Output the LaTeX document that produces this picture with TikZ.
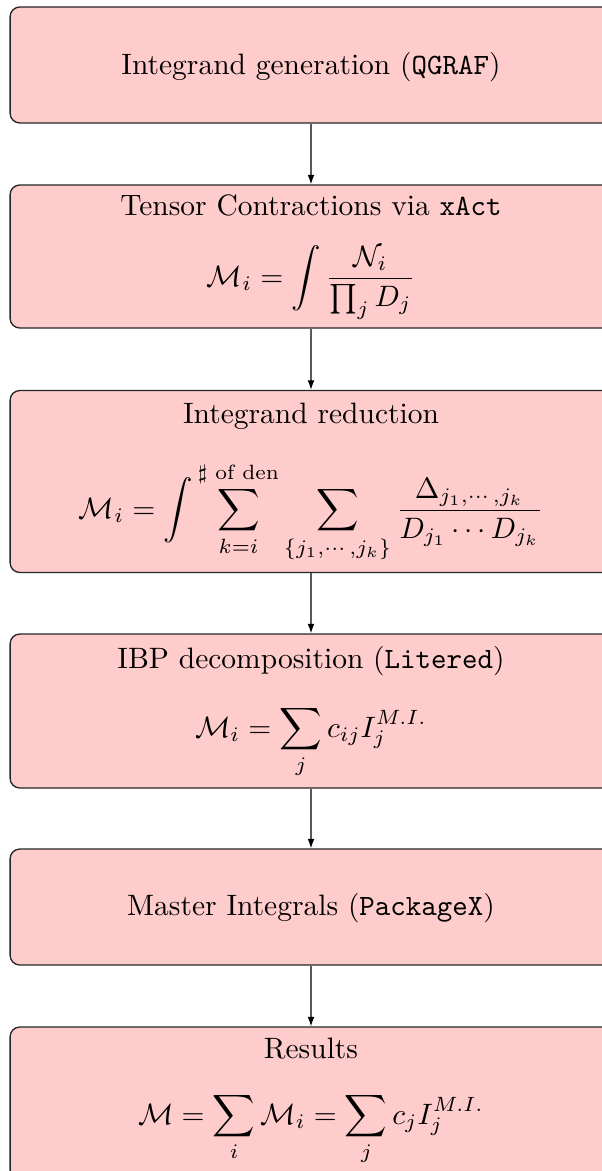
\documentclass[tikz,border=0pt]{standalone}
\usepackage{amsmath,amssymb}
\usetikzlibrary{arrows.meta}
\begin{document}
\begin{tikzpicture}[x=0.339pt,y=-0.339pt,
  box/.style={draw=black!85, fill=red!20, rounded corners=3.3pt, line width=0.45pt,
              minimum width=204pt, inner sep=0pt},
  lbl/.style={inner sep=0pt, anchor=base},
  conn/.style={draw=black!65, line width=0.4pt, -{Latex[length=3.2pt,width=2.3pt,black]}}]
\useasboundingbox (0,0) rectangle (601,1171);
\node[box, minimum height={116*0.339pt}] (b1) at (311,65) {};
\node[box, minimum height={143*0.339pt}] (b2) at (311,256.5) {};
\node[box, minimum height={182*0.339pt}] (b3) at (311,481.5) {};
\node[box, minimum height={154*0.339pt}] (b4) at (311,711) {};
\node[box, minimum height={116*0.339pt}] (b5) at (311,907) {};
\node[box, minimum height={153*0.339pt}] (b6) at (311,1103.5) {};

\node[lbl] (t1) at (311,75) {Integrand generation (\texttt{QGRAF})};

\node[lbl] (t2) at (311,215) {Tensor Contractions via \texttt{xAct}};
\node[lbl] (f2) at (311,286) {$\displaystyle \mathcal{M}_i=\int\frac{\mathcal{N}_i}{\prod_j D_j}$};

\node[lbl] (t3) at (311,423) {Integrand reduction};
\node[lbl] (f3) at (311,518) {$\displaystyle \mathcal{M}_i=\int\sum_{k=i}^{\sharp\text{ of den}}\sum_{\{j_1,\cdots,j_k\}}\frac{\Delta_{j_1,\cdots,j_k}}{D_{j_1}\cdots D_{j_k}}$};

\node[lbl] (t4) at (311,668) {IBP decomposition (\texttt{Litered})};
\node[lbl] (f4) at (311,737) {$\displaystyle \mathcal{M}_i=\sum_j c_{ij}I_j^{M.I.}$};

\node[lbl] (t5) at (311,915) {Master Integrals (\texttt{PackageX})};

\node[lbl] (t6) at (311,1058) {Results};
\node[lbl] (f6) at (311,1124) {$\displaystyle \mathcal{M}=\sum_i\mathcal{M}_i=\sum_j c_jI_j^{M.I.}$};

\draw[conn] (b1.south) -- (b2.north);
\draw[conn] (b2.south) -- (b3.north);
\draw[conn] (b3.south) -- (b4.north);
\draw[conn] (b4.south) -- (b5.north);
\draw[conn] (b5.south) -- (b6.north);
\end{tikzpicture}
\end{document}
